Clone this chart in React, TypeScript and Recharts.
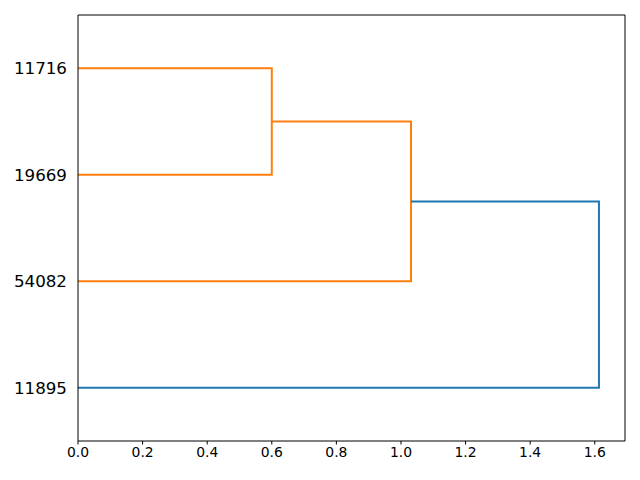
import React from 'react';
import { ComposedChart, Line, XAxis, YAxis, ReferenceLine } from 'recharts';

// Leaf labels, bottom to top
const leaves: string[] = ['11895', '54082', '19669', '11716'];
// Merge steps: [childA, childB] (cluster ids; 0..3 are leaves, 4.. are merges)
const mergeA: number[] = [3, 4, 5];
const mergeB: number[] = [2, 1, 0];
const mergeHeights: number[] = [0.6, 1.031, 1.613];
const mergeColors: string[] = ['#ff7f0e', '#ff7f0e', '#1f77b4'];
const xTicks: number[] = [0, 0.2, 0.4, 0.6, 0.8, 1.0, 1.2, 1.4, 1.6];

const pos: number[] = leaves.map((_, i) => 5 + 10 * i);
const hgt: number[] = leaves.map(() => 0);
const links = mergeHeights.map((h, k) => {
  const a = mergeA[k];
  const b = mergeB[k];
  const pts = [
    { x: hgt[a], y: pos[a] },
    { x: h, y: pos[a] },
    { x: h, y: pos[b] },
    { x: hgt[b], y: pos[b] },
  ];
  pos.push((pos[a] + pos[b]) / 2);
  hgt.push(h);
  return { pts, color: mergeColors[k] };
});
const maxH = Math.max(...mergeHeights) * 1.05;
const leafTicks = leaves.map((_, i) => 5 + 10 * i);
const yMax = leaves.length * 10;

export default function App() {
  return (
    <div style={{ position: 'absolute', left: 0, top: 0 }}>
      <ComposedChart
        width={640}
        height={480}
        margin={{ top: 15, right: 15, bottom: 0, left: 0 }}
        style={{ fontFamily: 'DejaVu Sans' }}
      >
        <XAxis
          xAxisId="b"
          dataKey="x"
          type="number"
          domain={[0, maxH]}
          ticks={xTicks}
          tickFormatter={(v: number) => v.toFixed(1)}
          allowDataOverflow
          height={39}
          stroke="#000"
          tickSize={3.5}
          tickMargin={2.5}
          tick={{ fontSize: 13.9, fill: '#000' }}
        />
        <YAxis
          yAxisId="l"
          dataKey="y"
          type="number"
          domain={[0, yMax]}
          ticks={leafTicks}
          tickFormatter={(v: number) => leaves[Math.round((v - 5) / 10)] ?? ''}
          width={78}
          stroke="#000"
          tickLine={false}
          tickSize={0}
          tickMargin={11}
          tick={{ fontSize: 16.7, fill: '#000' }}
        />
        <ReferenceLine xAxisId="b" yAxisId="l" y={yMax} stroke="#000" strokeWidth={1} />
        <ReferenceLine xAxisId="b" yAxisId="l" x={maxH} stroke="#000" strokeWidth={1} />
        {links.map((l, i) => (
          <Line
            key={i}
            xAxisId="b"
            yAxisId="l"
            data={l.pts}
            dataKey="y"
            type="linear"
            stroke={l.color}
            strokeWidth={2}
            dot={false}
            activeDot={false}
            isAnimationActive={false}
          />
        ))}
      </ComposedChart>
    </div>
  );
}
